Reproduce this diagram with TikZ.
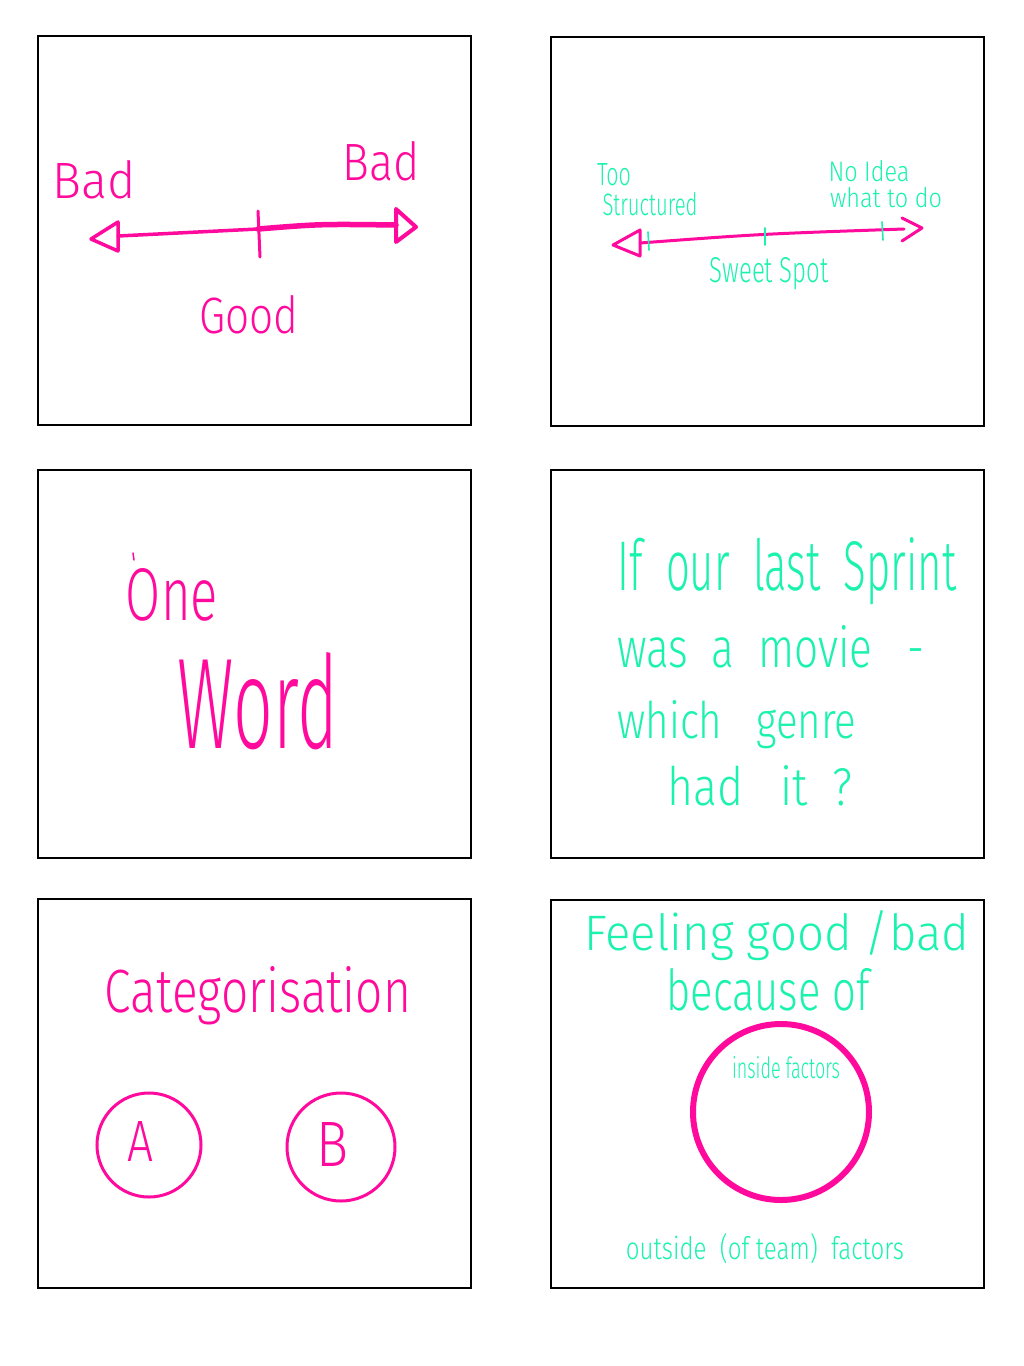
\documentclass[tikz,border=0pt]{standalone}
\usepackage{fontspec}
\setmainfont{Fira Sans}[UprightFont=* Light]
\usetikzlibrary{arrows.meta}
\definecolor{hotpink}{HTML}{FF0A9C}
\definecolor{mint}{HTML}{1AF2AE}
\newcommand{\fitwh}[3]{\resizebox{#1}{#2}{#3}}
\tikzset{
  panel/.style={draw=black,line width=2.2pt},
  pinktxt/.style={text=hotpink,inner sep=0pt,anchor=base},
  minttxt/.style={text=mint,inner sep=0pt,anchor=base},
  scaleline/.style={draw=hotpink,line cap=round},
  tickmark/.style={line cap=round},
  ring/.style={circle,draw=hotpink,inner sep=0pt},
  openhead/.style={draw=hotpink,line join=round,line cap=round}
}
\begin{document}
\begin{tikzpicture}[x=1pt,y=-1pt]
\useasboundingbox[fill=white] (0,0) rectangle (1024,1366);
% panels
\draw[panel] (38,36) rectangle (471,425);
\draw[panel] (551,37) rectangle (984,426);
\draw[panel] (38,470) rectangle (471,858);
\draw[panel] (551,470) rectangle (984,858);
\draw[panel] (38,899) rectangle (471,1288);
\draw[panel] (551,900) rectangle (984,1288);

% ---------- panel 1 ----------
\coordinate (a1L) at (118,236);
\coordinate (a1M) at (258,229);
\coordinate (a1R) at (396,225);
\draw[scaleline,line width=3.5pt] (a1L) -- (a1M);
\draw[scaleline,line width=5.5pt] (a1M) .. controls (320,224) .. (a1R);
\draw[openhead,line width=3.5pt] (118,222) -- (91,239) -- (118,251) -- cycle;
\draw[openhead,line width=4pt] (396,209) -- (416,227) -- (396,242) -- cycle;
\coordinate (t1a) at (258,211);
\coordinate (t1b) at (260,257);
\draw[draw=hotpink,tickmark,line width=3pt] (t1a) -- (t1b);
\node[pinktxt] (bad1) at (94,198) {\fitwh{83pt}{38pt}{Bad}};
\node[pinktxt] (bad2) at (381,180) {\fitwh{77pt}{39pt}{Bad}};
\node[pinktxt] (good) at (249,333) {\fitwh{99pt}{38pt}{Good}};

% ---------- panel 2 ----------
\coordinate (a2L) at (640,243);
\coordinate (a2R) at (904,229);
\draw[scaleline,line width=3pt] (a2L) .. controls (760,234) .. (a2R);
\draw[openhead,line width=3pt] (640,230) -- (613,245) -- (640,256) -- cycle;
\draw[openhead,line width=3pt] (902,218) -- (922,228) -- (902,241);
\draw[draw=mint,tickmark,line width=1.6pt] (648,232) -- (649,250);
\draw[draw=mint,tickmark,line width=1.6pt] (765,228) -- (765,245);
\draw[draw=mint,tickmark,line width=1.6pt] (882,222) -- (883,240);
\node[minttxt] (too) at (614,185) {\fitwh{34pt}{22pt}{Too}};
\node[minttxt] (struct) at (650,215) {\fitwh{95pt}{23pt}{Structured}};
\node[minttxt] (noidea) at (869,181) {\fitwh{81pt}{21pt}{No Idea}};
\node[minttxt] (whatdo) at (886,207) {\fitwh{112pt}{20pt}{what to do}};
\node[minttxt] (sweet) at (769,282) {\fitwh{119pt}{25pt}{Sweet Spot}};

% ---------- panel 3 ----------
\draw[draw=hotpink,tickmark,line width=1.5pt] (133,553) -- (134,560);
\node[pinktxt] (one) at (172,620) {\fitwh{92pt}{52pt}{One}};
\node[pinktxt] (word) at (258,748) {\fitwh{160pt}{96pt}{Word}};

% ---------- panel 4 ----------
\node[minttxt] (q1) at (787,590) {\fitwh{339pt}{53pt}{If\ \ our\ \ last\ \ Sprint}};
\node[minttxt] (q2) at (771,667) {\fitwh{307pt}{42pt}{was\ \ a\ \ movie\ \ \ -}};
\node[minttxt] (q3) at (737,738) {\fitwh{239pt}{38pt}{which\ \ \ genre}};
\node[minttxt] (q4) at (760,805) {\fitwh{185pt}{40pt}{had\ \ \ it\ \ ?}};

% ---------- panel 5 ----------
\node[pinktxt] (cat) at (258,1012) {\fitwh{306pt}{46pt}{Categorisation}};
\node[ring,line width=3pt,minimum size=104pt] (ca) at (149,1145) {};
\node[ring,line width=3pt,minimum size=108pt] (cb) at (341,1147) {};
\node[pinktxt] (la) at (141,1161) {\fitwh{26pt}{40pt}{A}};
\node[pinktxt] (lb) at (333,1166) {\fitwh{32pt}{44pt}{B}};

% ---------- panel 6 ----------
\node[minttxt] (feel) at (777,950) {\fitwh{385pt}{40pt}{Feeling\ good\ /bad}};
\node[minttxt] (because) at (768,1010) {\fitwh{203pt}{42pt}{because\ of}};
\node[ring,line width=6pt,minimum size=176pt] (inner) at (781,1112) {};
\node[minttxt] (inside) at (786,1078) {\fitwh{108pt}{22pt}{inside factors}};
\node[minttxt] (outside) at (765,1259) {\fitwh{278pt}{26pt}{outside\ \ (of team)\ \ factors}};
\end{tikzpicture}
\end{document}
